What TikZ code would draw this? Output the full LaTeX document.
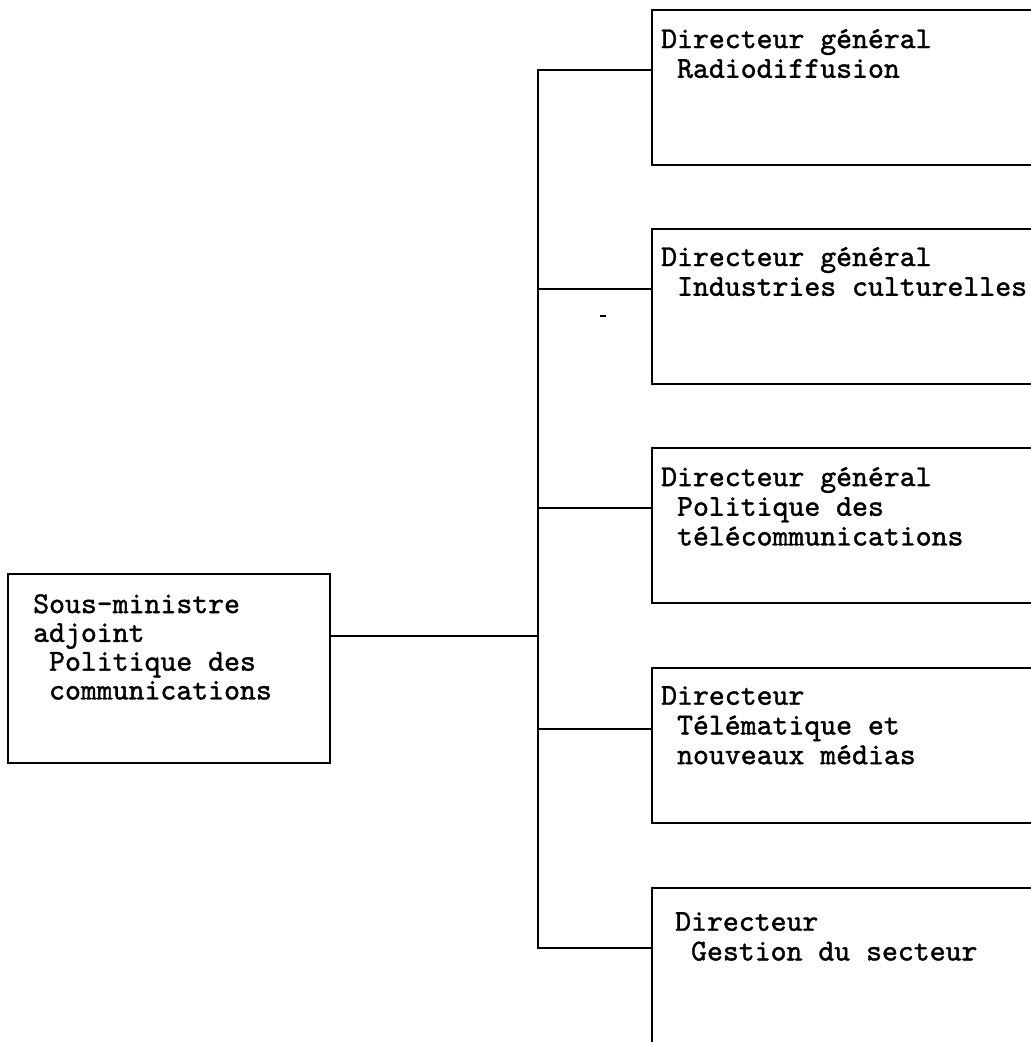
\documentclass[tikz,border=0pt]{standalone}
\usepackage{fontspec}
\setmonofont{lmmono10-regular.otf}[FakeBold=1.3]
\newcommand\padch{\phantom{x}}
\begin{document}
\begin{tikzpicture}[x=1pt,y=-1pt,
  rule/.style={line width=1.6pt, line cap=rect},
  unitbox/.style={draw, line width=1.6pt, anchor=north west, inner sep=0pt,
    minimum width=420pt, minimum height=155pt},
  rootbox/.style={draw, line width=1.6pt, anchor=north west, inner sep=0pt,
    minimum width=322pt, minimum height=189pt},
  label/.style={anchor=north west, inner sep=0pt, align=left,
    font=\ttfamily\fontsize{30.3pt}{29.7pt}\selectfont}]
\useasboundingbox (0,0) rectangle (1031,1042);
\clip (0,0) rectangle (1031,1042);

% frames
\node[rootbox] (root) at (7,573) {};
\node[unitbox] (b1) at (651,9) {};
\node[unitbox] (b2) at (651,228) {};
\node[unitbox] (b3) at (651,447) {};
\node[unitbox] (b4) at (651,667) {};
\node[unitbox, minimum height=175pt] (b5) at (651,887) {};

% texts
\node[label, font=\ttfamily\fontsize{30.3pt}{28.8pt}\selectfont] (t0) at (33,594) {Sous-ministre\\adjoint\\\padch Politique des\\\padch communications};
\node[label] (t1) at (661,29) {Directeur général\\\padch Radiodiffusion};
\node[label] (t2) at (661,247) {Directeur général\\\padch Industries culturelles};
\node[label] (t3) at (661,467) {Directeur général\\\padch Politique des\\\padch télécommunications};
\node[label] (t4) at (661,686) {Directeur\\\padch Télématique et\\\padch nouveaux médias};
\node[label] (t5) at (675,912) {Directeur\\\padch Gestion du secteur};

% junctions on the spine
\coordinate (j0) at (538,636);
\coordinate (j1) at (538,70);
\coordinate (j2) at (538,289);
\coordinate (j3) at (538,508);
\coordinate (j4) at (538,729);
\coordinate (j5) at (538,948);

% connectors
\draw[rule] (j1) -- (j5);
\draw[rule] (root.east |- j0) -- (j0);
\foreach \k in {1,...,5}{
  \draw[rule] (j\k) -- (j\k -| b\k.west);
}

% stray mark
\coordinate (s0) at (600,316);
\draw[line width=1.6pt] (s0) -- ++(6,0);
\end{tikzpicture}
\end{document}
